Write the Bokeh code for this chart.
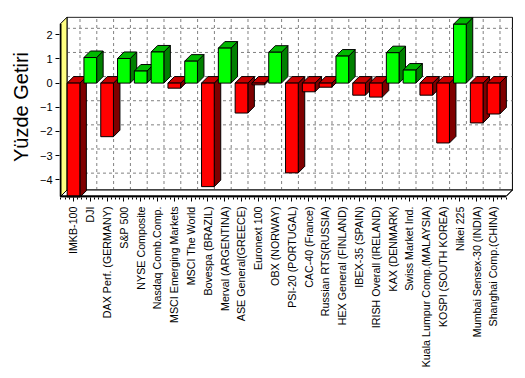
import math
from bokeh.plotting import figure
from bokeh.models import Range1d, FixedTicker
from bokeh.embed import file_html
from bokeh.resources import INLINE

categories = [
    "IMKB-100", "DJI", "DAX Perf. (GERMANY)", "S&P 500", "NYSE Composite",
    "Nasdaq Comb.Comp.", "MSCI Emerging Markets", "MSCI The World",
    "Bovespa (BRAZIL)", "Merval (ARGENTINA)", "ASE General(GREECE)",
    "Euronext 100", "OBX (NORWAY)", "PSI-20 (PORTUGAL)", "CAC-40 (France)",
    "Russian RTS(RUSSIA)", "HEX General (FINLAND)", "IBEX-35 (SPAIN)",
    "IRISH Overall (IRELAND)", "KAX (DENMARK)", "Swiss Market Ind.",
    "Kuala Lumpur Comp.(MALAYSIA)", "KOSPI (SOUTH KOREA)", "Nikei 225",
    "Mumbai Sensex-30 (INDIA)", "Shanghai Comp.(CHINA)",
]
returns = [
    -4.73, 1.06, -2.22, 1.02, 0.50, 1.29, -0.21, 0.91, -4.29, 1.45, -1.24,
    -0.07, 1.28, -3.72, -0.36, -0.17, 1.12, -0.50, -0.58, 1.26, 0.54,
    -0.50, -2.48, 2.44, -1.65, -1.28,
]
y_ticks = [-4, -3, -2, -1, 0, 1, 2]
y_label = "Yüzde Getiri"

n = len(categories)
FONT = "Liberation Sans"

# geometry of the pseudo-3D box (data units)
HW = 0.378          # half bar width
D = 0.387           # depth offset in x
DY = 0.27           # depth offset in y
FL = -0.774         # front-left edge
FR = n - 1 + 0.74   # front-right edge
YB = -4.70          # front bottom
YT = 2.73           # back top

p = figure(width=525, height=378, output_backend="svg", toolbar_location=None,
           x_range=Range1d(-0.833, -0.833 + 454 / 16.8),
           y_range=Range1d(-4.74, 2.76),
           min_border_left=59, min_border_right=12,
           min_border_top=16, min_border_bottom=181)
p.outline_line_color = None
p.xgrid.visible = False
p.ygrid.visible = False
p.background_fill_color = "white"
p.border_fill_color = "white"

# back wall
p.patch([FL + D, FR + D, FR + D, FL + D], [YB + DY, YB + DY, YT, YT],
        fill_color="white", line_color="black", line_width=1)
# grid on back wall
for v in y_ticks:
    p.line([FL + D, FR + D], [v + DY, v + DY], line_color="#808080",
           line_dash="3 3", line_width=1)
for i in range(n):
    p.line([i + D, i + D], [YB + DY, YT], line_color="#808080",
           line_dash="3 3", line_width=1)
# left wall
p.patch([FL, FL + D, FL + D, FL], [YB, YB + DY, YT, YT - DY],
        fill_color="#ffff80", line_color="black", line_width=1)
# floor
p.patch([FL, FR, FR + D, FL + D], [YB, YB, YB + DY, YB + DY],
        fill_color="white", line_color="black", line_width=1)

xs = list(range(n))
side_x, side_y, side_c = [], [], []
top_x, top_y, top_c = [], [], []
fl, fr, fb, ft, fc = [], [], [], [], []
for x, v in zip(xs, returns):
    pos = v >= 0
    lo, hi = min(0, v), max(0, v)
    x0, x1 = x - HW, x + HW
    side_x.append([x1, x1 + D, x1 + D, x1])
    side_y.append([lo, lo + DY, hi + DY, hi])
    side_c.append("#008000" if pos else "#800000")
    top_x.append([x0, x1, x1 + D, x0 + D])
    top_y.append([hi, hi, hi + DY, hi + DY])
    top_c.append("#00b800" if pos else "#c80000")
    fl.append(x0); fr.append(x1); fb.append(lo); ft.append(hi)
    fc.append("#00ff00" if pos else "#ff0000")

p.patches(side_x, side_y, fill_color=side_c, line_color="black", line_width=1)
p.patches(top_x, top_y, fill_color=top_c, line_color="black", line_width=1)
p.quad(left=fl, right=fr, bottom=fb, top=ft, fill_color=fc,
       line_color="black", line_width=1)

# thick front edges
p.line([FL, FR], [YB, YB], line_color="black", line_width=2.5)
p.line([FR, FR + D], [YB, YB + DY], line_color="black", line_width=1)
p.line([FL, FL], [YB, YT - DY], line_color="black", line_width=2)

# axes
ya = p.yaxis[0]
ya.ticker = FixedTicker(ticks=y_ticks, minor_ticks=[])
ya.axis_line_color = None
ya.major_tick_in = 0
ya.major_tick_out = 4
ya.major_tick_line_color = "black"
ya.major_label_standoff = 3
ya.major_label_text_font = FONT
ya.major_label_text_font_size = "11px"
ya.major_label_text_color = "black"
ya.axis_label = y_label
ya.axis_label_text_font = FONT
ya.axis_label_text_font_size = "20px"
ya.axis_label_text_font_style = "normal"
ya.axis_label_text_color = "black"
ya.axis_label_standoff = 5

xa = p.xaxis[0]
minor = [i + k / 4 for i in range(-1, n) for k in range(1, 4)]
xa.ticker = FixedTicker(ticks=xs, minor_ticks=minor)
xa.major_label_overrides = {i: c for i, c in enumerate(categories)}
xa.major_label_orientation = math.pi / 2
xa.axis_line_color = None
xa.major_tick_in = 0
xa.major_tick_out = 4
xa.minor_tick_in = 0
xa.minor_tick_out = 2
xa.major_tick_line_color = "black"
xa.minor_tick_line_color = "black"
xa.major_label_standoff = 5
xa.major_label_text_font = FONT
xa.major_label_text_font_size = "10.7px"
xa.major_label_text_color = "black"

open("out.html", "w").write(file_html(p, INLINE))
